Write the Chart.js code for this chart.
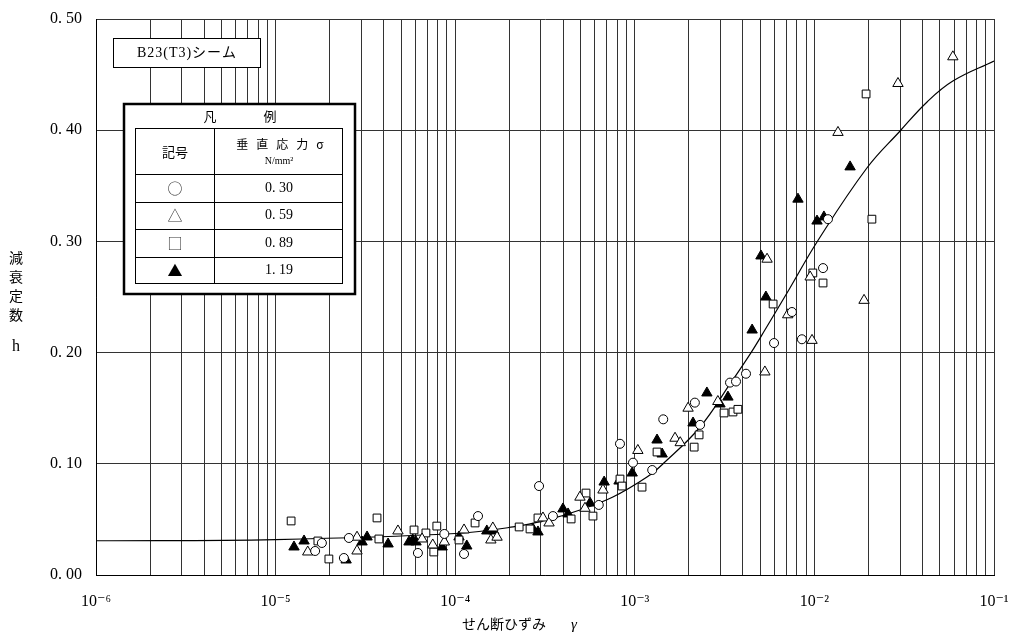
<!DOCTYPE html>
<html><head><meta charset="utf-8">
<script src="https://cdn.jsdelivr.net/npm/chart.js@4.4.0/dist/chart.umd.min.js"></script>
<style>html,body{margin:0;padding:0;background:#fff;}#wrap{width:1012px;height:639px;}</style>
</head><body><div id="wrap"><canvas id="c" width="1012" height="639"></canvas></div>
<script>
// ---- data ----
const seriesStress = [0.30, 0.59, 0.89, 1.19];
const legendSymbols = ['○', '△', '□', '▲'];

const circleX = [1.66e-5,1.81e-5,2.40e-5,2.56e-5,6.2e-5,8.7e-5,1.12e-4,1.34e-4,2.93e-4,3.5e-4,6.3e-4,8.27e-4,9.77e-4,1.25e-3,1.44e-3,2.16e-3,2.31e-3,3.39e-3,3.66e-3,4.16e-3,5.96e-3,7.5e-3,8.52e-3,1.117e-2,1.19e-2];
const circleY = [0.0216,0.0288,0.0153,0.0333,0.0198,0.0369,0.0189,0.053,0.080,0.053,0.063,0.118,0.101,0.0944,0.140,0.155,0.135,0.173,0.174,0.181,0.2086,0.2365,0.212,0.276,0.320];

const triX = [1.51e-5,2.84e-5,2.84e-5,4.8e-5,6.54e-5,7.5e-5,8.7e-5,1.12e-4,1.58e-4,1.62e-4,1.71e-4,3.08e-4,3.33e-4,4.95e-4,5.28e-4,6.65e-4,1.04e-3,1.675e-3,1.79e-3,1.98e-3,2.9e-3,5.3e-3,5.45e-3,7.1e-3,9.47e-3,9.7e-3,1.353e-2,1.89e-2,2.92e-2,5.9e-2];
const triY = [0.0207,0.034,0.0216,0.0396,0.0324,0.027,0.0297,0.0405,0.0315,0.0423,0.034,0.0513,0.0468,0.070,0.060,0.0764,0.112,0.123,0.119,0.150,0.156,0.1826,0.284,0.234,0.268,0.211,0.398,0.247,0.442,0.466];

const squareX = [1.22e-5,1.72e-5,1.98e-5,3.67e-5,3.76e-5,5.9e-5,6.87e-5,7.6e-5,7.9e-5,1.05e-4,1.29e-4,2.27e-4,2.61e-4,2.89e-4,4.42e-4,5.35e-4,5.85e-4,8.27e-4,8.5e-4,1.097e-3,1.33e-3,2.14e-3,2.28e-3,3.14e-3,3.52e-3,3.75e-3,5.89e-3,9.8e-3,1.117e-2,1.94e-2,2.09e-2];
const squareY = [0.0486,0.0306,0.0144,0.0513,0.0324,0.0405,0.0378,0.0207,0.044,0.0315,0.0468,0.0432,0.0414,0.0513,0.0504,0.0737,0.053,0.0863,0.080,0.079,0.1106,0.115,0.126,0.1457,0.1466,0.149,0.2437,0.2716,0.2626,0.4326,0.320];

const filledX = [1.266e-5,1.44e-5,2.47e-5,3.03e-5,3.23e-5,4.23e-5,5.53e-5,6.05e-5,5.8e-5,8.46e-5,1.05e-4,1.16e-4,1.50e-4,1.64e-4,2.71e-4,2.89e-4,3.98e-4,4.25e-4,5.63e-4,6.75e-4,8.17e-4,9.67e-4,1.33e-3,1.42e-3,2.11e-3,2.52e-3,2.98e-3,3.30e-3,4.5e-3,5.04e-3,5.37e-3,8.1e-3,1.034e-2,1.13e-2,1.58e-2];
const filledY = [0.0252,0.0306,0.0135,0.0297,0.0342,0.0279,0.0297,0.0297,0.0315,0.0252,0.0342,0.0261,0.0396,0.0396,0.0414,0.0387,0.0594,0.0549,0.0647,0.0836,0.0845,0.0917,0.1214,0.1088,0.1367,0.1637,0.1538,0.160,0.2203,0.2869,0.250,0.338,0.3183,0.322,0.367];

const curveX = [1e-6,1e-5,1e-4,2.10e-4,3.24e-4,4.95e-4,7.55e-4,1.169e-3,1.436e-3,2.31e-3,3.39e-3,4.44e-3,5.3e-3,7.31e-3,1.034e-2,1.96e-2,3.0e-2,4.24e-2,5.9e-2,1e-1];
const curveY = [0.0308,0.0319,0.0373,0.0432,0.0495,0.0585,0.0701,0.0881,0.1000,0.1331,0.1718,0.2000,0.2203,0.2581,0.2995,0.3660,0.3993,0.4254,0.4442,0.4622];

const xDecades = [-6,-5,-4,-3,-2,-1];
const xTickLabels = ['10⁻⁶','10⁻⁵','10⁻⁴','10⁻³','10⁻²','10⁻¹'];
const yTicks = [0, 0.1, 0.2, 0.3, 0.4, 0.5];
const yTickLabels = ['0. 00','0. 10','0. 20','0. 30','0. 40','0. 50'];

const chartTitle = 'B23(T3)シーム';
const legendHeader = ['凡', '例'];
const legendColHead1 = '記号';
const legendColHead2 = '垂直応力σ';
const legendUnit = 'N/mm²';
const xTitle = 'せん断ひずみ';
const xTitleSym = 'γ';
const yTitleChars = ['減','衰','定','数'];
const yTitleSym = 'h';

// ---- build ----
const pts = (X, Y) => X.map((x, i) => ({x, y: Y[i]}));
const gridVals = [];
for (const d of xDecades.slice(0, -1)) for (let m = 1; m <= 9; m++) gridVals.push(m * Math.pow(10, d));
gridVals.push(Math.pow(10, xDecades[xDecades.length - 1]));

const serif = "'Liberation Serif','DejaVu Serif',serif";
const jp = "'Noto Sans CJK JP','Noto Sans',sans-serif";

const overlay = {
  id: 'overlay',
  afterDraw(chart) {
    const ctx = chart.ctx;
    ctx.save();
    ctx.fillStyle = '#000';
    ctx.textAlign = 'center';
    ctx.textBaseline = 'middle';
    // y title (vertical)
    ctx.font = `14px ${jp}`;
    yTitleChars.forEach((c, i) => ctx.fillText(c, 16, 258 + i * 19));
    ctx.font = `16px ${serif}`;
    ctx.fillText(yTitleSym, 16, 347);
    // x title
    ctx.font = `14px ${jp}`;
    ctx.textAlign = 'left';
    ctx.fillText(xTitle, 462, 624);
    ctx.font = `italic 15px ${serif}`;
    ctx.fillText(xTitleSym, 571, 625);
    ctx.textAlign = 'center';

    // title box
    ctx.fillStyle = '#fff';
    ctx.fillRect(113, 38, 148, 29);
    ctx.strokeStyle = '#000';
    ctx.lineWidth = 1;
    ctx.strokeRect(113.5, 38.5, 147, 29);
    ctx.fillStyle = '#000';
    ctx.font = `14px ${serif}, ${jp}`;
    ctx.letterSpacing = '1px';
    ctx.fillText(chartTitle, 187, 53);
    ctx.letterSpacing = '0px';

    // legend outer box
    ctx.fillStyle = '#fff';
    ctx.fillRect(124, 104, 231, 190);
    ctx.lineWidth = 2.5;
    ctx.strokeStyle = '#000';
    ctx.strokeRect(124, 104, 231, 190);
    ctx.fillStyle = '#000';
    ctx.font = `13px ${jp}`;
    ctx.fillText(legendHeader[0], 210, 116);
    ctx.fillText(legendHeader[1], 270, 116);
    // inner table
    ctx.lineWidth = 1;
    ctx.strokeRect(135.5, 128.5, 207, 155);
    const rows = [174, 201.5, 229, 256.5];
    ctx.beginPath();
    rows.forEach(r => { ctx.moveTo(135.5, Math.round(r) + 0.5); ctx.lineTo(342.5, Math.round(r) + 0.5); });
    ctx.moveTo(214.5, 128.5); ctx.lineTo(214.5, 283.5);
    ctx.stroke();
    ctx.font = `13px ${jp}`;
    ctx.fillText(legendColHead1, 175, 152);
    ctx.font = `12px ${jp}`;
    ctx.letterSpacing = '8px';
    ctx.fillText(legendColHead2, 284, 144);
    ctx.letterSpacing = '0px';
    ctx.font = `10px ${serif}`;
    ctx.fillText(legendUnit, 279, 161);
    const centers = [188, 215.5, 243, 270.5];
    seriesStress.forEach((s, i) => {
      ctx.font = `15px ${jp}`;
      ctx.fillStyle = i === 3 ? '#000' : '#333';
      ctx.fillText(legendSymbols[i], 175, centers[i]);
      ctx.fillStyle = '#000';
      ctx.font = `14px ${serif}`;
      ctx.fillText(s.toFixed(2).replace('.', '. '), 279, centers[i]);
    });
    ctx.restore();
  }
};

const common = { showLine: false, borderColor: '#000', borderWidth: 1 };
new Chart(document.getElementById('c'), {
  type: 'scatter',
  data: {
    datasets: [
      { ...common, label: '0.30', data: pts(circleX, circleY), pointStyle: 'circle', pointRadius: 4.5, pointBorderColor: '#000', pointBackgroundColor: '#fff' },
      { ...common, label: '0.59', data: pts(triX, triY), pointStyle: 'triangle', pointRadius: 6, pointBorderColor: '#000', pointBackgroundColor: '#fff' },
      { ...common, label: '0.89', data: pts(squareX, squareY), pointStyle: 'rect', pointRadius: 5.5, pointBorderColor: '#000', pointBackgroundColor: '#fff' },
      { ...common, label: '1.19', data: pts(filledX, filledY), pointStyle: 'triangle', pointRadius: 6, pointBorderColor: '#000', pointBackgroundColor: '#000' },
      { type: 'line', label: 'curve', data: pts(curveX, curveY), showLine: true, borderColor: '#000', borderWidth: 1.2, pointRadius: 0, fill: false, tension: 0.4 }
    ]
  },
  options: {
    responsive: false,
    animation: false,
    devicePixelRatio: 1,
    layout: { padding: { top: 19, right: 18, left: 0, bottom: 0 } },
    plugins: { legend: { display: false }, tooltip: { enabled: false } },
    scales: {
      x: {
        type: 'logarithmic',
        min: 1e-6, max: 1e-1,
        afterFit: s => { s.height = 64; s.paddingLeft = 0; s.paddingRight = 0; },
        afterBuildTicks: s => { s.ticks = gridVals.map(v => ({ value: v })); },
        grid: { color: '#333', lineWidth: 1, drawTicks: false },
        border: { color: '#000', width: 1 },
        ticks: {
          autoSkip: false, maxRotation: 0, padding: 17, color: '#000',
          font: { family: serif, size: 16 },
          callback: (v) => {
            const e = Math.round(Math.log10(v));
            const i = xDecades.indexOf(e);
            return (i >= 0 && Math.abs(v / Math.pow(10, e) - 1) < 1e-6) ? xTickLabels[i] : '';
          }
        }
      },
      y: {
        min: 0, max: 0.5,
        afterFit: s => { s.width = 96; s.paddingTop = 0; s.paddingBottom = 0; },
        afterBuildTicks: s => { s.ticks = yTicks.map(v => ({ value: v })); },
        grid: { color: '#333', lineWidth: 1, drawTicks: false },
        border: { color: '#000', width: 1 },
        ticks: {
          padding: 14, color: '#000',
          font: { family: serif, size: 16 },
          callback: (v) => { const i = yTicks.findIndex(t => Math.abs(t - v) < 1e-9); return i >= 0 ? yTickLabels[i] : ''; }
        }
      }
    }
  },
  plugins: [overlay]
});
</script></body></html>
